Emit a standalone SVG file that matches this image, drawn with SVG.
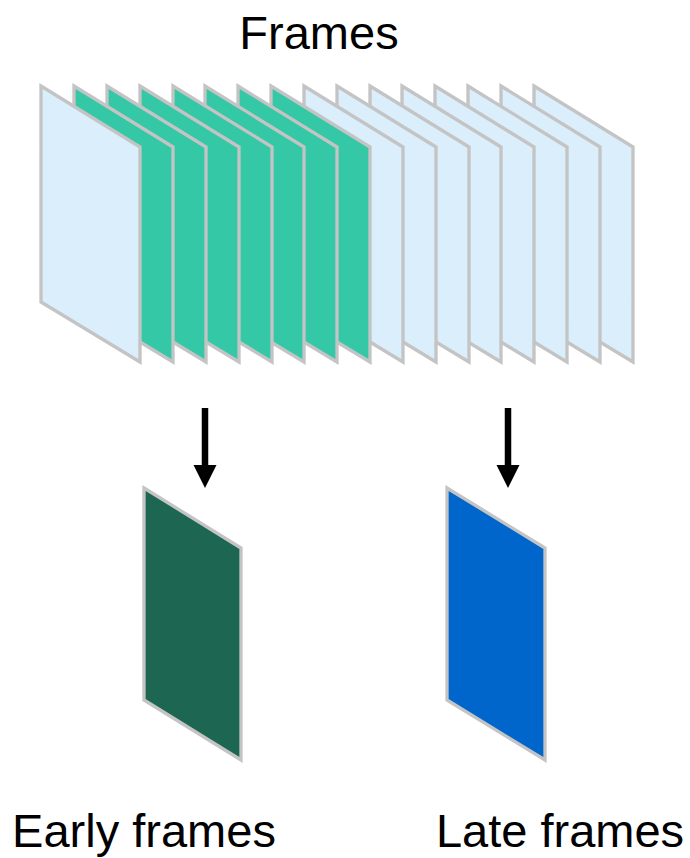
<svg xmlns="http://www.w3.org/2000/svg" xmlns:xlink="http://www.w3.org/1999/xlink" width="690" height="858" viewBox="0 0 690 858">
<style>
.lbl{font-family:"Liberation Sans",Arial,sans-serif;font-size:47px;fill:#000;text-anchor:middle}
.fr{stroke:#C4C4C4;stroke-width:3.3;stroke-linejoin:miter}
.blue{fill:#DAEEFC}
.green{fill:#34C8A7}
.ah{fill:#000}
</style>
<defs>
<polygon id="pg" points="0,0 99,61 99,276 0,216"/>
</defs>
<rect width="690" height="858" fill="#fff"/>
<g id="title"><text class="lbl" x="319" y="49">Frames</text></g>
<g id="frames">
<g id="f15"><use xlink:href="#pg" class="fr blue" x="534" y="86"/></g>
<g id="f14"><use xlink:href="#pg" class="fr blue" x="501" y="86"/></g>
<g id="f13"><use xlink:href="#pg" class="fr blue" x="468" y="86"/></g>
<g id="f12"><use xlink:href="#pg" class="fr blue" x="435" y="86"/></g>
<g id="f11"><use xlink:href="#pg" class="fr blue" x="402" y="86"/></g>
<g id="f10"><use xlink:href="#pg" class="fr blue" x="370" y="86"/></g>
<g id="f9"><use xlink:href="#pg" class="fr blue" x="337" y="86"/></g>
<g id="f8"><use xlink:href="#pg" class="fr blue" x="304" y="86"/></g>
<g id="f7"><use xlink:href="#pg" class="fr green" x="271" y="86"/></g>
<g id="f6"><use xlink:href="#pg" class="fr green" x="238" y="86"/></g>
<g id="f5"><use xlink:href="#pg" class="fr green" x="205" y="86"/></g>
<g id="f4"><use xlink:href="#pg" class="fr green" x="173" y="86"/></g>
<g id="f3"><use xlink:href="#pg" class="fr green" x="140" y="86"/></g>
<g id="f2"><use xlink:href="#pg" class="fr green" x="107" y="86"/></g>
<g id="f1"><use xlink:href="#pg" class="fr green" x="74" y="86"/></g>
<g id="f0"><use xlink:href="#pg" class="fr blue" x="41" y="86"/></g>
</g>
<g id="connectors">
<line x1="205" y1="408" x2="205" y2="466" stroke="#000" stroke-width="6.5"/>
<path d="M193.5,465 L216.5,465 L205,488 Z" class="ah"/>
<line x1="508" y1="408" x2="508" y2="466" stroke="#000" stroke-width="6.5"/>
<path d="M496.5,465 L519.5,465 L508,488 Z" class="ah"/>
</g>
<g id="early">
<polygon points="144,488 241,548 241,760 144,700" fill="#1D6652" stroke="#C4C4C4" stroke-width="3.3"/>
<text class="lbl" x="144" y="847">Early frames</text>
</g>
<g id="late">
<polygon points="447,488 545,548 545,760 447,700" fill="#0066CC" stroke="#C4C4C4" stroke-width="3.3"/>
<text class="lbl" x="560" y="847">Late frames</text>
</g>
</svg>
